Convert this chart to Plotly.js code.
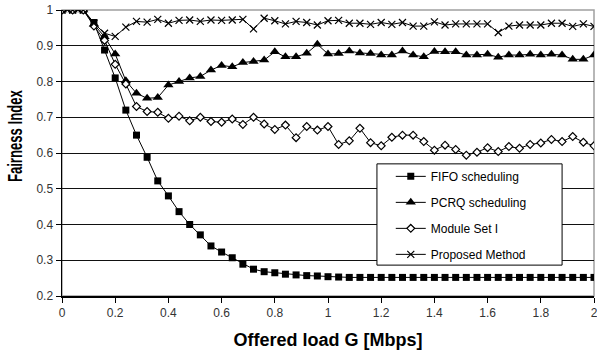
<!DOCTYPE html>
<html>
<head>
<meta charset="utf-8">
<script src="https://cdn.plot.ly/plotly-3.0.1.min.js"></script>
<style>html,body{margin:0;padding:0;background:#fff;}#chart{width:597px;height:350px;}</style>
</head>
<body>
<div id="chart"></div>
<script>
const loadG = [0,0.04,0.08,0.12,0.16,0.2,0.24,0.28,0.32,0.36,0.4,0.44,0.48,0.52,0.56,0.6,0.64,0.68,0.72,0.76,0.8,0.84,0.88,0.92,0.96,1.0,1.04,1.08,1.12,1.16,1.2,1.24,1.28,1.32,1.36,1.4,1.44,1.48,1.52,1.56,1.6,1.64,1.68,1.72,1.76,1.8,1.84,1.88,1.92,1.96,2.0];

const fifo = [1,1,1,0.965,0.888,0.81,0.72,0.65,0.588,0.522,0.48,0.436,0.40,0.371,0.34,0.323,0.307,0.289,0.275,0.268,0.265,0.261,0.259,0.257,0.256,0.254,0.253,0.252,0.252,0.252,0.252,0.252,0.252,0.252,0.252,0.252,0.252,0.252,0.252,0.252,0.252,0.252,0.252,0.252,0.252,0.252,0.252,0.252,0.252,0.252,0.252];

const pcrq = [1,1,1,0.96,0.925,0.877,0.802,0.767,0.753,0.755,0.79,0.80,0.81,0.814,0.832,0.845,0.841,0.853,0.856,0.86,0.883,0.869,0.869,0.879,0.904,0.877,0.878,0.885,0.88,0.878,0.874,0.874,0.885,0.874,0.869,0.884,0.883,0.883,0.874,0.874,0.876,0.868,0.874,0.874,0.876,0.874,0.876,0.874,0.862,0.862,0.874];

const moduleSet = [1,1,1,0.955,0.915,0.848,0.793,0.73,0.716,0.714,0.697,0.703,0.69,0.70,0.688,0.686,0.695,0.68,0.70,0.681,0.666,0.678,0.643,0.674,0.664,0.674,0.624,0.634,0.669,0.629,0.62,0.644,0.65,0.65,0.632,0.608,0.622,0.61,0.594,0.602,0.615,0.604,0.618,0.613,0.624,0.628,0.638,0.632,0.646,0.63,0.62];

const proposed = [1,1,1,0.963,0.935,0.926,0.952,0.968,0.966,0.974,0.963,0.971,0.972,0.968,0.972,0.971,0.972,0.974,0.947,0.977,0.97,0.961,0.968,0.965,0.958,0.97,0.971,0.963,0.963,0.96,0.965,0.96,0.965,0.955,0.955,0.967,0.958,0.961,0.961,0.961,0.961,0.937,0.955,0.958,0.958,0.958,0.963,0.963,0.954,0.961,0.954];

const seriesNames = ["FIFO scheduling","PCRQ scheduling","Module Set I","Proposed Method"];
const xTicks = [0,0.2,0.4,0.6,0.8,1,1.2,1.4,1.6,1.8,2];
const xTickText = ["0","0.2","0.4","0.6","0.8","1","1.2","1.4","1.6","1.8","2"];
const yTicks = [0.2,0.3,0.4,0.5,0.6,0.7,0.8,0.9,1];
const yTickText = ["0.2","0.3","0.4","0.5","0.6","0.7","0.8","0.9","1"];
const xTitle = "Offered load G [Mbps]";
const yTitle = "Fairness Index";

const line = {color:'#000', width:1};
const traces = [
  {x:loadG, y:fifo, name:seriesNames[0], legendgroup:'a', mode:'lines+markers', line:line,
   marker:{symbol:'square', size:7, color:'#000'}},
  {x:loadG, y:pcrq, name:seriesNames[1], legendgroup:'b', mode:'lines+markers', line:line,
   marker:{symbol:'triangle-up', size:9, color:'#000'}},
  {x:loadG, y:moduleSet, name:seriesNames[2], legendgroup:'c', mode:'lines+markers', line:line,
   marker:{symbol:'diamond', size:6, color:'#fff', line:{color:'#000', width:1.2}}},
  {x:loadG, y:proposed, name:seriesNames[3], legendgroup:'d', mode:'lines+markers', line:line,
   marker:{symbol:'x-thin', size:7, color:'#000', line:{color:'#000', width:1.2}}}
];

const layout = {
  width:597, height:350,
  margin:{l:62, r:3, t:10, b:54},
  paper_bgcolor:'#fff', plot_bgcolor:'#fff',
  font:{family:'"Liberation Sans", Arial, sans-serif', color:'#000'},
  showlegend:true,
  legend:{x:0.618, y:0.469, xanchor:'left', yanchor:'top', bgcolor:'rgba(0,0,0,0)',
          borderwidth:0, font:{size:12, color:'#000'}, tracegroupgap:7},
  xaxis:{range:[0,2], tickvals:xTicks, ticktext:xTickText, showgrid:false, zeroline:false,
         showline:true, linecolor:'#000', linewidth:1.5, ticks:'outside', ticklen:5, tickcolor:'#000',
         ticklabeloverflow:'allow',
         tickfont:{size:12, color:'#333'},
         title:{text:xTitle, font:{size:18, color:'#000', weight:'bold'}, standoff:15}},
  yaxis:{range:[0.2,1], tickvals:yTicks, ticktext:yTickText, showgrid:true, gridcolor:'#111', gridwidth:1,
         zeroline:false, showline:true, linecolor:'#000', linewidth:1.5, ticks:'outside', ticklen:5,
         tickcolor:'#000', tickfont:{size:12, color:'#333'}},
  annotations:[
    {text:yTitle, xref:'paper', yref:'paper', x:-0.0883, y:0.559, xanchor:'center', yanchor:'middle',
     textangle:-90, showarrow:false, font:{size:20, color:'#000', weight:'bold'}}
  ],
  shapes:[
    {type:'rect', xref:'paper', yref:'paper', x0:0, x1:1, y0:0, y1:1, layer:'between',
     line:{color:'#a0a0a0', width:1.5}, fillcolor:'rgba(0,0,0,0)'},
    {type:'rect', xref:'paper', yref:'paper', x0:0.592, x1:0.940, y0:0.108, y1:0.462, layer:'above',
     line:{color:'#000', width:1}, fillcolor:'#fff'}
  ]
};

Plotly.newPlot('chart', traces, layout, {staticPlot:true, displayModeBar:false}).then(function(){
  const t = document.querySelector('#chart .annotation-text');
  if (t) { t.setAttribute('textLength', '92'); t.setAttribute('lengthAdjust', 'spacingAndGlyphs'); }
});
</script>
</body>
</html>
